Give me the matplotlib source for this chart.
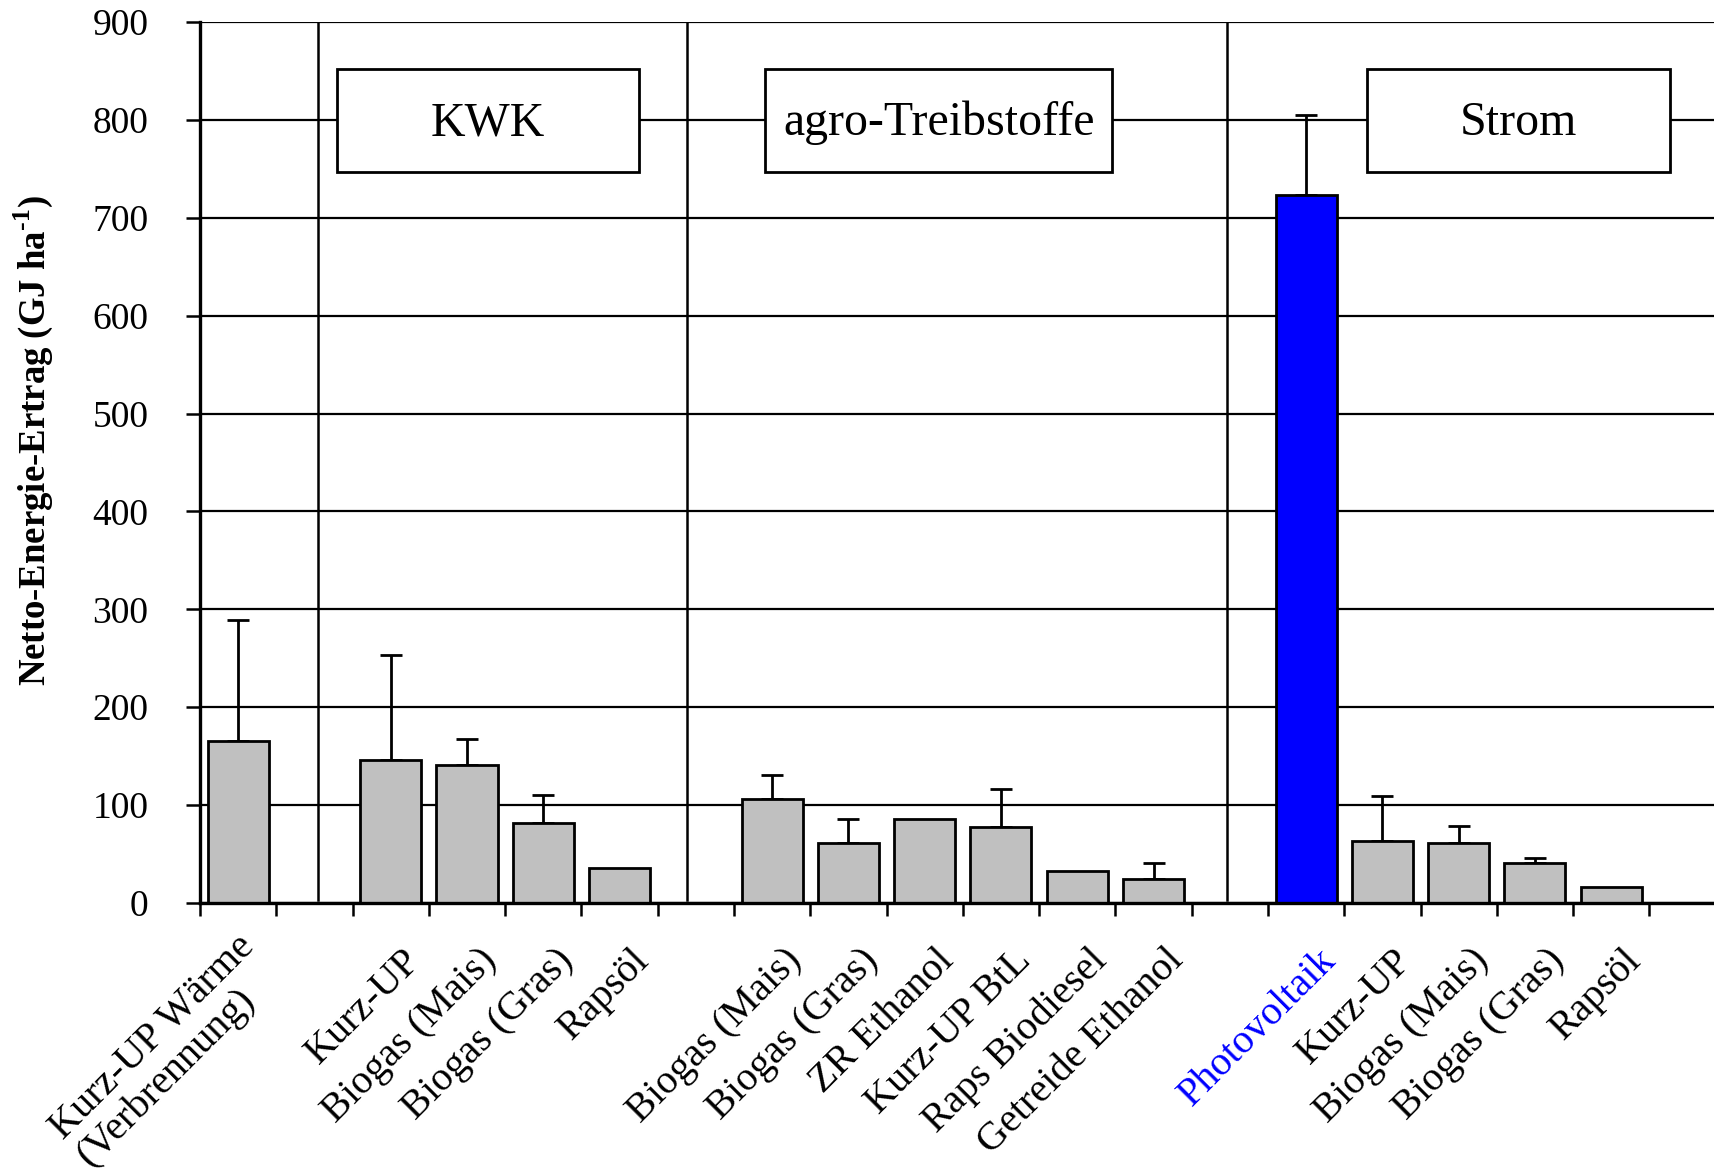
import matplotlib.pyplot as plt
from matplotlib.patches import Rectangle
from matplotlib.transforms import offset_copy

plt.rcParams['font.family'] = ['Liberation Serif', 'DejaVu Serif']
plt.rcParams['mathtext.fontset'] = 'custom'
plt.rcParams['mathtext.rm'] = 'Liberation Serif:bold'
plt.rcParams['mathtext.bf'] = 'Liberation Serif:bold'

# Netto-Energie-Ertrag je Pfad (GJ/ha), nur positive Fehlerbalken
labels = ['Kurz-UP Wärme\n(Verbrennung)',
          'Kurz-UP', 'Biogas (Mais)', 'Biogas (Gras)', 'Rapsöl',
          'Biogas (Mais)', 'Biogas (Gras)', 'ZR Ethanol', 'Kurz-UP BtL',
          'Raps Biodiesel', 'Getreide Ethanol',
          'Photovoltaik', 'Kurz-UP', 'Biogas (Mais)', 'Biogas (Gras)', 'Rapsöl']
slots = [0, 2, 3, 4, 5, 7, 8, 9, 10, 11, 12, 14, 15, 16, 17, 18]
values = [165, 146, 141, 82, 36, 106, 61, 86, 78, 33, 25, 723, 63, 61, 41, 16]
err_up = [124, 107, 27, 28, 0, 25, 25, 0, 38, 0, 16, 82, 46, 18, 5, 0]
highlight = 'Photovoltaik'

# Gruppen: Titel und Kastenbreite in Kategorie-Einheiten
group_titles = ['KWK', 'agro-Treibstoffe', 'Strom']
group_box_x = [(1.79, 5.76), (7.41, 11.96), (15.30, 19.27)]
group_box_y = (747, 852)
separators = [1.55, 6.38, 13.46]

grey = '#C0C0C0'
blue = '#0000FF'

fig = plt.figure(figsize=(17.15, 11.71), dpi=100)
ax = fig.add_axes([200 / 1715, 268 / 1171, 1515 / 1715, 881 / 1171])

ax.set_xlim(0, 19.86)
ax.set_ylim(0, 900)

# horizontale Gitterlinien
ax.set_yticks(range(0, 901, 100))
ax.yaxis.grid(True, color='black', linewidth=1.6, zorder=0)
ax.set_axisbelow(True)

# Trennlinien zwischen den Gruppen
for s in separators:
    ax.plot([s, s], [3, 900], color='black', linewidth=1.8, zorder=1)

centers = [s + 0.5 for s in slots]
colors = [blue if l == highlight else grey for l in labels]
ax.bar(centers, values, width=0.8, color=colors, edgecolor='black',
       linewidth=2, zorder=3)

for c, v, e in zip(centers, values, err_up):
    if e > 0:
        ax.errorbar(c, v, yerr=[[0], [e]], fmt='none', ecolor='black',
                    elinewidth=2, capsize=8, capthick=2, zorder=2)

title_tr = offset_copy(ax.transData, fig=fig, y=-15, units='dots')
for title, (x0, x1) in zip(group_titles, group_box_x):
    y0, y1 = group_box_y
    ax.add_patch(Rectangle((x0, y0), x1 - x0, y1 - y0, facecolor='white',
                           edgecolor='black', linewidth=2, zorder=4))
    ax.text((x0 + x1) / 2, (y0 + y1) / 2, title, transform=title_tr,
            ha='center', va='baseline', fontsize=34.5, zorder=5)

for side in ['top', 'right']:
    ax.spines[side].set_visible(False)
ax.spines['left'].set_linewidth(2.4)
ax.spines['bottom'].set_linewidth(2.4)
ax.spines['left'].set_zorder(6)
ax.spines['bottom'].set_zorder(6)

ax.set_xticks(range(0, 20))
ax.set_xticklabels([])
ax.tick_params(axis='x', direction='out', length=9, width=1.8, color='black')
ax.tick_params(axis='y', direction='out', length=10, width=1.8, pad=27,
               labelsize=27, color='black')

# Kategorienbeschriftungen, 45° gedreht
lab_tr = offset_copy(ax.get_xaxis_transform(), fig=fig, x=24, y=-52, units='dots')
for c, l in zip(centers, labels):
    ax.text(c, 0, l, transform=lab_tr, rotation=45, rotation_mode='anchor',
            ha='right', va='center', multialignment='left', linespacing=1.0,
            fontsize=29, color=blue if l == highlight else 'black')

fig.text(33 / 1715, 1 - 441 / 1171,
         r'Netto-Energie-Ertrag (GJ ha$^{\text{-1}}$)',
         rotation=90, ha='center', va='center', fontsize=26.5, fontweight='bold')

fig.savefig('out.png', dpi=100)
